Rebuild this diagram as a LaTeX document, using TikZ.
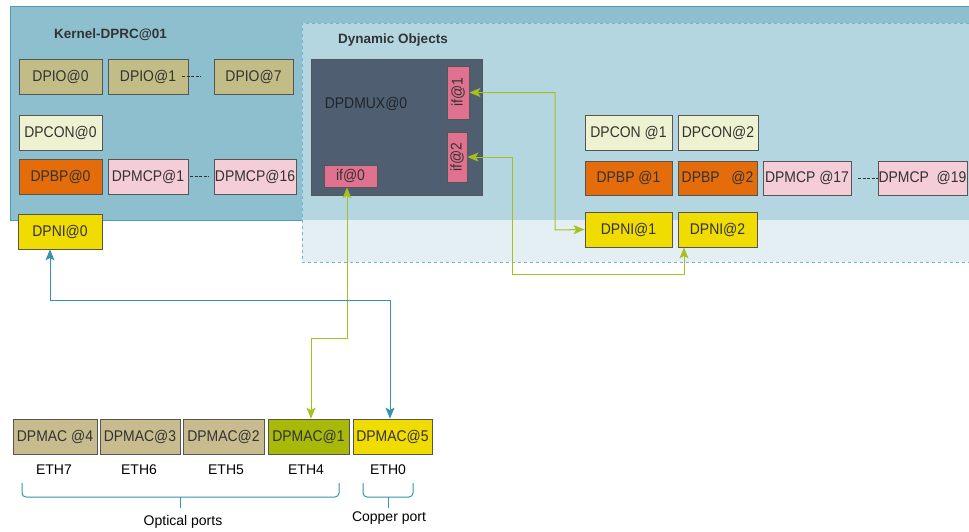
\documentclass[tikz,border=0pt]{standalone}
\usepackage{fontspec}
\setmainfont{Liberation Sans}
\newfontfamily\condfont{Liberation Sans}[FakeStretch=0.9]
\usetikzlibrary{arrows.meta,calc}
\definecolor{kernfill}{HTML}{8DBFCE}
\definecolor{kernline}{HTML}{4E9DB8}
\definecolor{dynfill}{HTML}{B4D6E0}
\definecolor{dynlow}{HTML}{E4EFF3}
\definecolor{dynline}{HTML}{74B3CC}
\definecolor{dpioc}{HTML}{C2BD86}
\definecolor{dpmacc}{HTML}{C8BC8F}
\definecolor{dpconc}{HTML}{EEF2D0}
\definecolor{dpbpc}{HTML}{E46C0A}
\definecolor{dpmcpc}{HTML}{F4CDD6}
\definecolor{dpnic}{HTML}{F0DC00}
\definecolor{dmuxc}{HTML}{4F5E70}
\definecolor{ifc}{HTML}{E0718F}
\definecolor{mac1c}{HTML}{A8B90A}
\definecolor{greenc}{HTML}{A6C11E}
\definecolor{bluec}{HTML}{3592B0}
\definecolor{boxline}{HTML}{555555}
\definecolor{txt}{HTML}{333333}
\begin{document}
\begin{tikzpicture}[x=1pt,y=-1pt,
  box/.style={draw=boxline, line width=0.8pt, inner sep=0pt, text=txt,
    font=\condfont\fontsize{15.5}{17}\selectfont, minimum height=35pt},
  title/.style={font=\bfseries\fontsize{13.5}{16}\selectfont, text=txt, inner sep=0pt},
  plain/.style={font=\fontsize{14}{16}\selectfont, text=black, inner sep=0pt},
  gconn/.style={draw=greenc, line width=1pt, {Stealth[length=11pt,width=9pt,inset=2.5pt]}-{Stealth[length=11pt,width=9pt,inset=2.5pt]}},
  bconn/.style={draw=bluec, line width=1pt, {Stealth[length=11pt,width=9pt,inset=2.5pt]}-{Stealth[length=11pt,width=9pt,inset=2.5pt]}},
  dots/.style={draw=txt, line width=0.7pt, dash pattern=on 3pt off 1.5pt},
  bracepath/.style={draw=bluec, line width=1pt, rounded corners=4pt}
]
\useasboundingbox (0,0) rectangle (969,531);
% Kernel container
\fill[kernfill] (10,6) rectangle (969,220);
\draw[kernline, line width=1pt] (969,6) -- (10,6) -- (10,220) -- (969,220);
% Dynamic objects container
\fill[dynfill] (302,23) rectangle (969,220);
\fill[dynlow] (302,220) rectangle (969,262);
\draw[dynline, line width=1pt, dashed] (969,23) -- (302,23) -- (302,262) -- (969,262);
\node[title] (ktitle) at (110.5,35) {Kernel-DPRC@01};
\node[title] (dtitle) at (393,40) {Dynamic Objects};
% left column objects
\node[box, fill=dpioc, minimum width=83pt] (dpio0) at (60.5,76.5) {DPIO@0};
\node[box, fill=dpioc, minimum width=80pt] (dpio1) at (148,76.5) {DPIO@1\hspace{8pt}};
\node[box, fill=dpioc, minimum width=79pt] (dpio7) at (253.5,76.5) {DPIO@7};
\draw[dots] ([xshift=-6pt]dpio1.east) -- ([xshift=-13pt]dpio7.west);
\node[box, fill=dpconc, minimum width=83pt] (dpcon0) at (60.5,132.5) {DPCON@0};
\node[box, fill=dpbpc, minimum width=83pt] (dpbp0) at (60.5,176.5) {DPBP@0};
\node[box, fill=dpmcpc, minimum width=80pt] (dpmcp1) at (148,176.5) {DPMCP@1};
\node[box, fill=dpmcpc, minimum width=82pt] (dpmcp16) at (255,176.5) {DPMCP@16};
\draw[dots] ([xshift=2pt]dpmcp1.east) -- ([xshift=-5pt]dpmcp16.west);
\node[box, fill=dpnic, minimum width=84pt] (dpni0) at (60,231.5) {DPNI@0};
% DPDMUX
\node[box, fill=dmuxc, minimum width=171pt, minimum height=136pt] (dmux) at (396.5,127) {};
\node[plain, font=\condfont\fontsize{15.5}{17}\selectfont, text=dmuxc!40!black] (dmuxlbl) at (366,104) {DPDMUX@0};
\node[box, fill=ifc, minimum width=22pt, minimum height=53pt] (if1) at (458,92.5) {\rotatebox{90}{if@1}};
\node[box, fill=ifc, minimum width=20pt, minimum height=50pt] (if2) at (457,157) {\rotatebox{90}{if@2}};
\node[box, fill=ifc, minimum width=53pt, minimum height=22pt] (if0) at (350.5,176) {if@0};
% right objects
\node[box, fill=dpconc, minimum width=87pt] (dpcon1) at (628.5,132.5) {DPCON @1};
\node[box, fill=dpconc, minimum width=80pt] (dpcon2) at (718,132.5) {DPCON@2};
\node[box, fill=dpbpc, minimum width=87pt, minimum height=34pt] (dpbp1) at (628.5,178) {DPBP @1};
\node[box, fill=dpbpc, minimum width=79pt, minimum height=34pt] (dpbp2) at (717.5,178) {DPBP\ \ \ @2};
\node[box, fill=dpmcpc, minimum width=88pt, minimum height=34pt] (dpmcp17) at (807,178) {DPMCP @17};
\node[box, fill=dpmcpc, minimum width=89pt, minimum height=34pt] (dpmcp19) at (922.5,178) {DPMCP\ \ @19};
\draw[dots] ([xshift=7pt]dpmcp17.east) -- (dpmcp19.west);
\node[box, fill=dpnic, minimum width=87pt] (dpni1) at (628.5,229.5) {DPNI@1};
\node[box, fill=dpnic, minimum width=79pt] (dpni2) at (717.5,229.5) {DPNI@2};
% MAC row
\node[box, fill=dpmacc, minimum width=84pt] (mac4) at (55,436.5) {DPMAC @4};
\node[box, fill=dpmacc, minimum width=80pt] (mac3) at (140,436.5) {DPMAC@3};
\node[box, fill=dpmacc, minimum width=81pt] (mac2) at (223.5,436.5) {DPMAC@2};
\node[box, fill=mac1c, minimum width=81pt] (mac1) at (308.5,436.5) {DPMAC@1};
\node[box, fill=dpnic, minimum width=79pt] (mac5) at (392.5,436.5) {DPMAC@5};
\node[plain] (eth7) at (54,470) {ETH7};
\node[plain] (eth6) at (139,470) {ETH6};
\node[plain] (eth5) at (226,470) {ETH5};
\node[plain] (eth4) at (306,470) {ETH4};
\node[plain] (eth0) at (388,470) {ETH0};
% braces
\draw[bracepath] (22,483) -- (22,497) -- (339,497) -- (339,483);
\draw[bluec, line width=1pt] (180,497) -- (180,508);
\draw[bracepath] (363,483) -- (363,497) -- (413,497) -- (413,483);
\draw[bluec, line width=1pt] (388,497) -- (388,508);
\node[plain] (optical) at (183,522) {Optical ports};
\node[plain] (copper) at (389,518) {Copper port};
% connectors
\coordinate (c1) at (555,230);
\draw[gconn] (if1.east) -| (c1) -- (dpni1.west);
\coordinate (c2) at (512,274);
\draw[gconn] (if2.east) -| (c2) -| ([xshift=-33.5pt]dpni2.south);
\coordinate (c3) at (347,338);
\coordinate (c3b) at (311,338);
\draw[gconn] ([xshift=-3.5pt]if0.south) -- (c3) -- (c3b) -- ([xshift=2.5pt]mac1.north);
\coordinate (c4) at (50,300);
\coordinate (c4b) at (390,300);
\draw[bconn] ([xshift=-10pt]dpni0.south) -- (c4) -- (c4b) -- ([xshift=-2.5pt]mac5.north);
\end{tikzpicture}
\end{document}
